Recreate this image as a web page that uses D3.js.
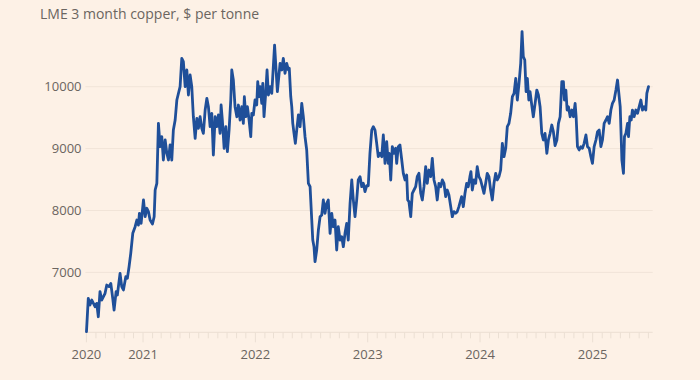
<!DOCTYPE html>
<html>
<head>
<meta charset="utf-8">
<script src="https://cdn.jsdelivr.net/npm/d3@7"></script>
<style>
  html, body { margin: 0; padding: 0; background: #fdf1e6; }
  svg { display: block; }
  text { font-family: "Open Sans", "Noto Sans", sans-serif; }
</style>
</head>
<body>
<svg id="chart" width="700" height="380"></svg>
<script>
// ---- Data ----
const title = "LME 3 month copper, $ per tonne";
const yTickValues = [7000, 8000, 9000, 10000];
const xTickYears = [2020, 2021, 2022, 2023, 2024, 2025];
const domainStart = "2020-07-01";
const domainEnd = "2025-07-15";

// Dates as decimal years
const years = [
2020.498,2020.514,2020.529,2020.545,2020.574,2020.589,2020.603,2020.618,2020.633,2020.663,
2020.678,2020.698,2020.714,2020.731,2020.743,2020.761,2020.772,2020.796,2020.811,2020.826,
2020.847,2020.861,2020.876,2020.891,2020.909,2020.930,2020.945,2020.959,2020.968,2020.983,
2021.004,2021.019,2021.034,2021.048,2021.063,2021.084,2021.099,2021.108,2021.123,2021.137,
2021.152,2021.167,2021.181,2021.197,2021.212,2021.226,2021.241,2021.256,2021.270,2021.286,
2021.301,2021.315,2021.330,2021.345,2021.359,2021.375,2021.390,2021.404,2021.419,2021.434,
2021.448,2021.464,2021.479,2021.493,2021.508,2021.523,2021.537,2021.553,2021.568,2021.582,
2021.597,2021.612,2021.626,2021.642,2021.657,2021.671,2021.686,2021.695,2021.706,2021.722,
2021.737,2021.751,2021.766,2021.781,2021.790,2021.804,2021.819,2021.835,2021.849,2021.864,
2021.879,2021.893,2021.902,2021.915,2021.929,2021.944,2021.959,2021.968,2021.982,2021.997,
2022.012,2022.021,2022.033,2022.042,2022.057,2022.066,2022.077,2022.093,2022.104,2022.116,
2022.131,2022.146,2022.171,2022.196,2022.220,2022.235,2022.249,2022.264,2022.279,2022.294,
2022.302,2022.315,2022.324,2022.333,2022.344,2022.356,2022.368,2022.383,2022.398,2022.413,
2022.427,2022.442,2022.457,2022.472,2022.487,2022.502,2022.511,2022.522,2022.531,2022.546,
2022.561,2022.576,2022.591,2022.605,2022.620,2022.635,2022.649,2022.665,2022.680,2022.694,
2022.709,2022.724,2022.738,2022.754,2022.769,2022.783,2022.798,2022.813,2022.827,2022.843,
2022.858,2022.872,2022.887,2022.902,2022.916,2022.932,2022.947,2022.961,2022.976,2022.991,
2023.005,2023.020,2023.036,2023.050,2023.065,2023.080,2023.094,2023.109,2023.125,2023.139,
2023.154,2023.169,2023.183,2023.192,2023.205,2023.219,2023.234,2023.249,2023.258,2023.272,
2023.287,2023.303,2023.317,2023.332,2023.347,2023.356,2023.367,2023.383,2023.397,2023.412,
2023.427,2023.441,2023.456,2023.472,2023.486,2023.501,2023.516,2023.530,2023.545,2023.561,
2023.575,2023.590,2023.605,2023.619,2023.634,2023.650,2023.664,2023.679,2023.694,2023.708,
2023.723,2023.739,2023.753,2023.768,2023.783,2023.797,2023.812,2023.836,2023.851,2023.866,
2023.881,2023.895,2023.910,2023.919,2023.931,2023.946,2023.961,2023.975,2023.990,2024.005,
2024.020,2024.035,2024.050,2024.064,2024.079,2024.094,2024.109,2024.124,2024.139,2024.153,
2024.168,2024.183,2024.198,2024.213,2024.228,2024.242,2024.257,2024.272,2024.287,2024.302,
2024.317,2024.331,2024.346,2024.361,2024.373,2024.384,2024.397,2024.409,2024.420,2024.433,
2024.444,2024.459,2024.473,2024.489,2024.504,2024.518,2024.533,2024.548,2024.562,2024.577,
2024.593,2024.607,2024.622,2024.637,2024.651,2024.666,2024.682,2024.696,2024.711,2024.726,
2024.740,2024.749,2024.762,2024.773,2024.785,2024.800,2024.815,2024.829,2024.844,2024.853,
2024.865,2024.880,2024.895,2024.909,2024.924,2024.940,2024.954,2024.969,2024.984,2024.998,
2025.013,2025.029,2025.043,2025.058,2025.073,2025.087,2025.102,2025.118,2025.132,2025.147,
2025.162,2025.176,2025.191,2025.207,2025.221,2025.230,2025.245,2025.260,2025.274,2025.283,
2025.296,2025.310,2025.319,2025.331,2025.343,2025.354,2025.369,2025.384,2025.399,2025.414,
2025.429,2025.443,2025.458,2025.473,2025.482,2025.497
];

const prices = [
6042,6581,6473,6554,6446,6500,6284,6689,6554,6662,
6796,6770,6823,6581,6392,6689,6635,6985,6770,6716,
6931,6904,7092,7308,7631,7738,7846,7765,7954,7793,
8170,7900,8036,7982,7846,7782,7900,8331,8439,9409,
9031,9192,8816,9139,8924,8816,9058,8816,9300,9462,
9785,9890,10000,10459,10405,10000,10270,9866,10189,10000,
9515,9166,9489,9328,9515,9328,9247,9623,9812,9677,
9354,9570,8897,9515,9354,9543,9247,9704,9462,9005,
9354,8950,9300,9785,10270,10108,9677,9515,9704,9462,
9677,9408,9838,9515,9677,9462,9192,9570,9543,9785,
9704,10081,9838,10000,9731,10054,9515,9919,10270,9866,
10000,9892,10673,9919,10377,10270,10459,10216,10377,10270,
10297,9838,9677,9408,9247,9085,9300,9543,9354,9731,
9515,9192,8978,8439,8385,7846,7523,7415,7173,7362,
7685,7900,7927,8170,7954,8116,8170,7631,7954,7738,
7846,7362,7738,7523,7577,7415,7631,7792,7523,8116,
8493,8170,7900,8170,8493,8547,8385,8439,8304,8400,
8400,8924,9300,9354,9300,9085,8869,8924,8869,9220,
8762,9112,8762,8924,8493,9031,8924,9005,8762,9031,
9058,8816,8601,8493,8574,8170,8143,7900,8278,8331,
8385,8547,8601,8278,8170,8385,8708,8439,8654,8547,
8843,8493,8385,8170,8439,8385,8493,8439,8224,8331,
8251,8062,7900,7981,7954,7981,8062,8224,8062,8278,
8439,8385,8547,8628,8331,8493,8439,8708,8547,8493,
8385,8278,8439,8601,8547,8331,8170,8439,8601,8493,
8547,8654,9085,8869,9005,9354,9408,9570,9838,9892,
10135,9785,10054,10377,10889,10485,10431,9919,10135,9785,
9919,9704,9515,9731,9946,9866,9677,9247,9139,9247,
8924,9139,9247,9381,9274,9050,9139,9408,9515,10081,
10081,9785,9946,9623,9677,9515,9623,9515,9731,9515,
9031,8978,9031,9005,9085,9220,9031,9005,8869,8762,
9031,9139,9274,9300,9031,9139,9408,9462,9515,9408,
9623,9731,9785,9946,10108,9946,9677,8816,8601,9193,
9247,9408,9193,9515,9462,9623,9515,9623,9570,9677,
9785,9623,9677,9623,9892,10000
];

// ---- Helpers ----
function yearToDate(t) {
  const y = Math.floor(t);
  const a = new Date(y, 0, 1), b = new Date(y + 1, 0, 1);
  return new Date(+a + (t - y) * (b - a));
}
const data = years.map((t, i) => ({ date: yearToDate(t), value: prices[i] }));

// ---- Layout ----
const svg = d3.select("#chart");
const W = 700, H = 380;
svg.append("rect").attr("width", W).attr("height", H).attr("fill", "#fdf1e6");

const left = 86.4, right = 652.7;
const x = d3.scaleTime()
  .domain([d3.timeParse("%Y-%m-%d")(domainStart), d3.timeParse("%Y-%m-%d")(domainEnd)])
  .range([left, right]);

// 10000 -> 86.7, 7000 -> 272.4
const y = d3.scaleLinear().domain([7000, 10000]).range([272.4, 86.7]);
const baseY = 332.3;

// Title
svg.append("text")
  .attr("x", 40).attr("y", 19)
  .attr("font-size", 14)
  .attr("fill", "#6b6560")
  .text(title);

// Gridlines
svg.append("g")
  .selectAll("line")
  .data(yTickValues)
  .join("line")
  .attr("x1", left - 1).attr("x2", right)
  .attr("y1", d => y(d)).attr("y2", d => y(d))
  .attr("stroke", "#f1e4d8").attr("stroke-width", 1);

// Y labels
svg.append("g")
  .selectAll("text")
  .data(yTickValues)
  .join("text")
  .attr("x", 81.5).attr("y", d => y(d))
  .attr("dy", "0.35em")
  .attr("text-anchor", "end")
  .attr("font-size", 13)
  .attr("fill", "#6b6560")
  .text(d => d3.format("d")(d));

// X axis baseline
svg.append("line")
  .attr("x1", left - 1).attr("x2", right)
  .attr("y1", baseY).attr("y2", baseY)
  .attr("stroke", "#ebdfd3").attr("stroke-width", 1);

// Monthly ticks
const months = d3.timeMonth.range(x.domain()[0], x.domain()[1]);
svg.append("g")
  .selectAll("line")
  .data(months)
  .join("line")
  .attr("x1", d => x(d)).attr("x2", d => x(d))
  .attr("y1", baseY).attr("y2", d => (d.getMonth() === 0 || +d === +x.domain()[0]) ? baseY + 10 : baseY + 6)
  .attr("stroke", "#ebdfd3").attr("stroke-width", 1);

// Year labels
const yearDates = xTickYears.map(yr => yr === 2020 ? x.domain()[0] : new Date(yr, 0, 1));
svg.append("g")
  .selectAll("text")
  .data(yearDates)
  .join("text")
  .attr("x", d => x(d)).attr("y", 359)
  .attr("text-anchor", "middle")
  .attr("font-size", 13)
  .attr("fill", "#6b6560")
  .text((d, i) => xTickYears[i]);

// Line
const line = d3.line().x(d => x(d.date)).y(d => y(d.value));
svg.append("path")
  .datum(data)
  .attr("d", line)
  .attr("fill", "none")
  .attr("stroke", "#1f4f99")
  .attr("stroke-width", 2.8)
  .attr("stroke-linejoin", "round")
  .attr("stroke-linecap", "round");
</script>
</body>
</html>
